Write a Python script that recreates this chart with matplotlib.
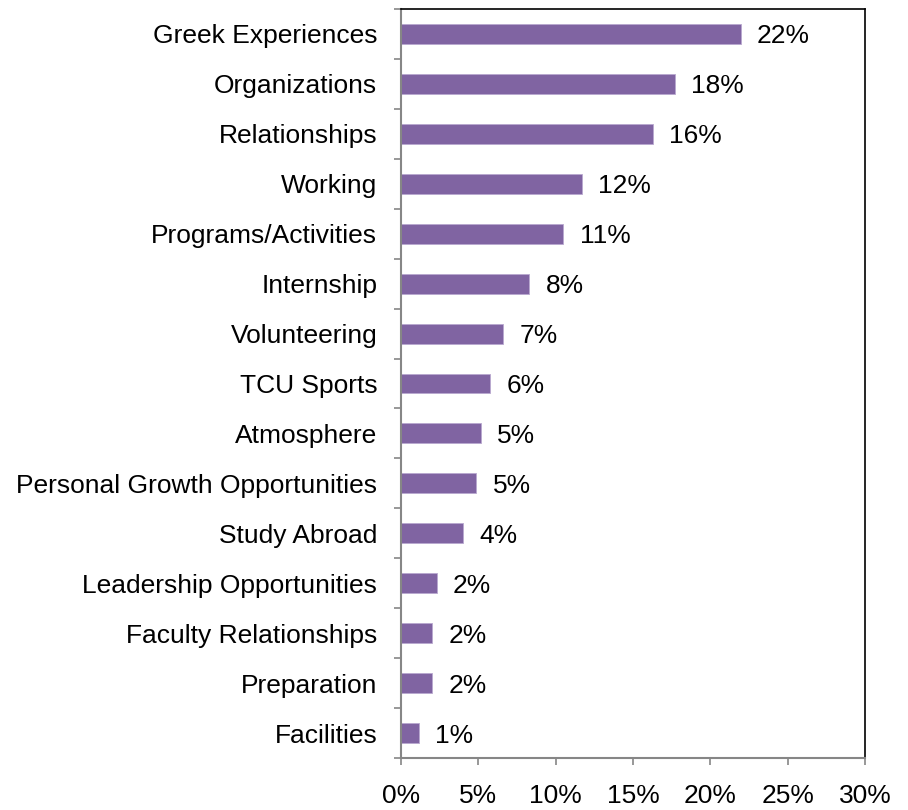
import numpy as np
import matplotlib.pyplot as plt
from matplotlib.ticker import FixedLocator

plt.rcParams['font.family'] = ['Liberation Sans', 'DejaVu Sans']

# data (top to bottom as in the chart)
categories = ['Greek Experiences', 'Organizations', 'Relationships', 'Working',
              'Programs/Activities', 'Internship', 'Volunteering', 'TCU Sports',
              'Atmosphere', 'Personal Growth Opportunities', 'Study Abroad',
              'Leadership Opportunities', 'Faculty Relationships', 'Preparation',
              'Facilities']
values = [21.96, 17.7, 16.3, 11.7, 10.5, 8.3, 6.6, 5.75, 5.15, 4.87, 3.99, 2.31, 2.0, 2.0, 1.16]
labels = ['22%', '18%', '16%', '12%', '11%', '8%', '7%', '6%', '5%', '5%', '4%', '2%', '2%', '2%', '1%']
xticks = [0, 5, 10, 15, 20, 25, 30]

fig = plt.figure(figsize=(9.08, 8.10), dpi=100)
ax = fig.add_axes([0.4416, 0.0642, 0.511, 0.9247])

y = np.arange(len(categories))[::-1]
ax.barh(y, values, height=0.4, color='#8064A2', edgecolor='#B9A8CF', linewidth=0.6)

# value labels right of the bars
for yy, v, lab in zip(y, values, labels):
    ax.text(v + 1.05, yy, lab, va='center_baseline', ha='left', fontsize=19)

ax.set_xlim(0, 30)
ax.set_ylim(-0.5, len(categories) - 0.5)
ax.set_xticks(xticks)
ax.set_xticklabels(['%d%%' % t for t in xticks])
ax.set_yticks(y)
ax.set_yticklabels(categories)
ax.yaxis.set_minor_locator(FixedLocator(np.arange(-0.5, len(categories), 1.0)))

ax.tick_params(axis='y', which='major', length=0, pad=17, labelsize=19)
ax.tick_params(axis='y', which='minor', length=5, width=1.2, color='#868686', direction='out')
ax.tick_params(axis='x', which='major', length=5, width=1.2, color='#868686', direction='out',
               pad=14, labelsize=19)

for s in ['left', 'bottom']:
    ax.spines[s].set_color('#868686')
    ax.spines[s].set_linewidth(1.5)
for s in ['top', 'right']:
    ax.spines[s].set_color('black')
    ax.spines[s].set_linewidth(1.2)

plt.savefig('out.png', dpi=100)
